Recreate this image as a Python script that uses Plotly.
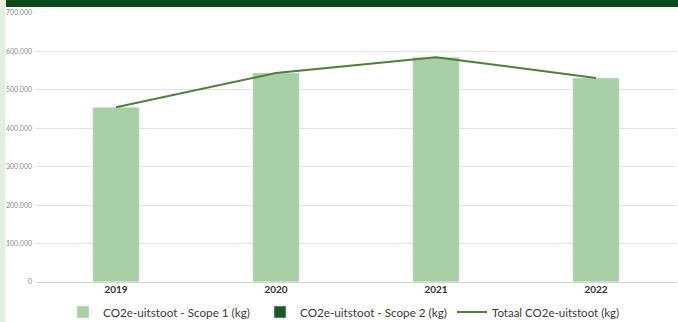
import plotly.graph_objects as go

years = ["2019", "2020", "2021", "2022"]
scope1 = [455000, 544000, 585000, 531000]
scope2 = [0, 0, 0, 0]
totaal = [455000, 544000, 585000, 531000]
y_ticks = [0, 100000, 200000, 300000, 400000, 500000, 600000, 700000]

FONT = "Lato, 'Open Sans', sans-serif"
W, H = 678, 322

fig = go.Figure()
fig.add_trace(go.Bar(x=years, y=scope1, name="CO2e-uitstoot - Scope 1 (kg)",
                     marker_color="#a9cfa7", width=0.29, legend="legend"))
fig.add_trace(go.Bar(x=years, y=scope2, name="CO2e-uitstoot - Scope 2 (kg)",
                     marker_color="#1f5a26", width=0.29, legend="legend2"))
fig.add_trace(go.Scatter(x=years, y=totaal, name="Totaal CO2e-uitstoot (kg)",
                         mode="lines", line=dict(color="#4f7f3a", width=2),
                         legend="legend3"))


def leg(text_x, size=11.7):
    return dict(orientation="h", xref="container", yref="container",
                x=(text_x - 40) / W, xanchor="left",
                y=1 - 312 / H, yanchor="middle",
                font=dict(size=size, color="#3a3a3a", family=FONT),
                bgcolor="rgba(0,0,0,0)", borderwidth=0)


fig.update_layout(
    width=W, height=H,
    margin=dict(l=36, r=2, t=13, b=40),
    paper_bgcolor="#ffffff", plot_bgcolor="#ffffff",
    barmode="overlay",
    separators=",.",
    font=dict(family=FONT, color="#444444"),
    showlegend=True,
    legend=leg(103), legend2=leg(300), legend3=leg(492, 11.5),
    xaxis=dict(showgrid=False, showline=False, ticks="",
               tickfont=dict(size=10, color="#333333", family=FONT, weight="bold")),
    yaxis=dict(range=[0, 700000], tickvals=y_ticks, tickformat=",.0f",
               showgrid=True, gridcolor="#e6e0e0", gridwidth=1,
               zeroline=True, zerolinecolor="#d8d0d0", zerolinewidth=1,
               tickfont=dict(size=7, color="#8a8a8a", family=FONT),
               ticks="", ticklabelstandoff=3),
    shapes=[
        dict(type="rect", xref="paper", yref="paper", x0=-0.047, x1=1.01,
             y0=1.022, y1=1.06, fillcolor="#0b4a1b", line_width=0, layer="above"),
        dict(type="rect", xref="paper", yref="paper", x0=-0.06, x1=-0.048,
             y0=-0.15, y1=1.06, fillcolor="#e4ede1", line_width=0, layer="below"),
    ],
)

fig.write_html("out.html")
